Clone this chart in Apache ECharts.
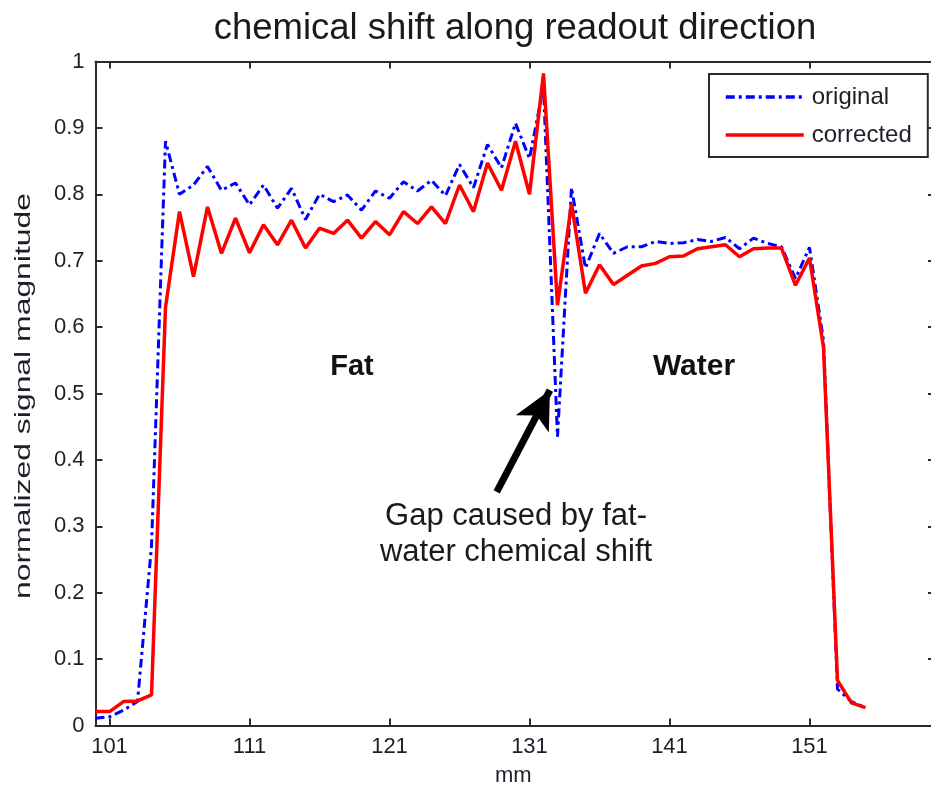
<!DOCTYPE html>
<html>
<head>
<meta charset="utf-8">
<title>chemical shift along readout direction</title>
<script src="https://cdn.jsdelivr.net/npm/echarts@6/dist/echarts.min.js"></script>
<style>
  html, body { margin: 0; padding: 0; background: #fff; }
  #chart { width: 931px; height: 794px; }
</style>
</head>
<body>
<div id="chart"></div>
<script>
// ── Data (position along readout, mm) ─────────────────────────────────────
const mm = [100, 101, 102, 103, 104, 105, 106, 107, 108, 109,
            110, 111, 112, 113, 114, 115, 116, 117, 118, 119,
            120, 121, 122, 123, 124, 125, 126, 127, 128, 129,
            130, 131, 132, 133, 134, 135, 136, 137, 138, 139,
            140, 141, 142, 143, 144, 145, 146, 147, 148, 149,
            150, 151, 152, 153, 154, 155];

// blue dash-dot curve
const original = [0.011, 0.013, 0.023, 0.036, 0.27, 0.88, 0.80, 0.814, 0.842, 0.806,
                  0.817, 0.784, 0.814, 0.779, 0.809, 0.762, 0.800, 0.789, 0.799, 0.776,
                  0.805, 0.794, 0.819, 0.805, 0.821, 0.798, 0.845, 0.810, 0.875, 0.840,
                  0.907, 0.854, 0.962, 0.435, 0.810, 0.689, 0.741, 0.711, 0.721, 0.721,
                  0.729, 0.726, 0.727, 0.732, 0.729, 0.735, 0.718, 0.734, 0.726, 0.721,
                  0.673, 0.720, 0.580, 0.055, 0.036, 0.027];

// red solid curve
const corrected = [0.021, 0.021, 0.036, 0.037, 0.046, 0.63, 0.774, 0.676, 0.781, 0.711,
                   0.764, 0.712, 0.754, 0.724, 0.761, 0.719, 0.749, 0.741, 0.761, 0.734,
                   0.759, 0.739, 0.774, 0.756, 0.781, 0.756, 0.814, 0.774, 0.847, 0.806,
                   0.880, 0.800, 0.982, 0.633, 0.786, 0.651, 0.694, 0.664, 0.678, 0.692,
                   0.696, 0.706, 0.707, 0.718, 0.721, 0.724, 0.706, 0.718, 0.719, 0.719,
                   0.663, 0.704, 0.570, 0.068, 0.034, 0.027];

const xTicks = [101, 111, 121, 131, 141, 151];

// arrow pointing at the gap, in data coordinates [mm, magnitude]
const arrowFrom = [128.66, 0.352];
const arrowTo = [132.46, 0.505];

// ── Chart ─────────────────────────────────────────────────────────────────
const FONT = '"Liberation Sans", Arial, sans-serif';
const AXIS_COLOR = '#2b2b2b';
const TEXT_COLOR = '#1e1e28';

const chart = echarts.init(document.getElementById('chart'), null, { renderer: 'canvas' });

const pairs = (vals) => mm.map((x, i) => [x, vals[i]]);

const frameAxis = {
  axisLine: { show: true, onZero: false, lineStyle: { color: AXIS_COLOR, width: 2 } },
  axisTick: { show: true, inside: true, length: 7, lineStyle: { color: AXIS_COLOR, width: 2 } },
  splitLine: { show: false },
};

chart.setOption({
  animation: false,
  backgroundColor: '#ffffff',
  textStyle: { fontFamily: FONT },
  // plot box runs past the right edge of the picture, as in the reference
  grid: { left: 95.5, top: 61.5, right: 0, bottom: 68.5, containLabel: false },
  legend: {
    orient: 'vertical',
    left: 709,
    top: 74,
    padding: [11, 16, 10, 15],
    itemWidth: 78,
    itemHeight: 14,
    itemGap: 14,
    borderColor: '#2b2b2b',
    borderWidth: 2,
    backgroundColor: '#fff',
    itemStyle: { opacity: 0 },
    lineStyle: { width: 3.5 },
    textStyle: { fontFamily: FONT, fontSize: 24, color: TEXT_COLOR, padding: [0, 0, 0, 3] },
    data: ['original', 'corrected'],
  },
  xAxis: [
    {
      type: 'value', min: 100, max: 159.68, position: 'bottom',
      name: 'mm', nameLocation: 'middle', nameGap: 39,
      nameTextStyle: { fontFamily: FONT, fontSize: 22, color: TEXT_COLOR },
      ...frameAxis,
      axisTick: { ...frameAxis.axisTick, customValues: xTicks },
      axisLabel: { show: true, customValues: xTicks, margin: 10, fontSize: 22, color: TEXT_COLOR, fontFamily: FONT },
    },
    {
      type: 'value', min: 100, max: 159.68, position: 'top',
      ...frameAxis,
      axisTick: { ...frameAxis.axisTick, customValues: xTicks },
      axisLabel: { show: false },
    },
  ],
  yAxis: [
    {
      type: 'value', min: 0, max: 1, interval: 0.1, position: 'left',
      ...frameAxis,
      axisLabel: {
        margin: 11, fontSize: 22, color: TEXT_COLOR, fontFamily: FONT,
        formatter: (v) => String(Math.round(v * 10) / 10),
      },
    },
    {
      type: 'value', min: 0, max: 1, interval: 0.1, position: 'right',
      axisLine: { show: false },
      axisTick: { show: true, inside: true, length: 3, lineStyle: { color: AXIS_COLOR, width: 2 } },
      splitLine: { show: false },
      axisLabel: { show: false },
    },
  ],
  series: [
    {
      name: 'original',
      type: 'line',
      data: pairs(original),
      symbol: 'none',
      z: 2,
      lineStyle: { color: '#0000ff', width: 3, type: [9, 4, 3, 4] },
      itemStyle: { color: '#0000ff' },
    },
    {
      name: 'corrected',
      type: 'line',
      data: pairs(corrected),
      symbol: 'none',
      z: 3,
      lineStyle: { color: '#ff0000', width: 3.5, type: 'solid' },
      itemStyle: { color: '#ff0000' },
      markLine: {
        silent: true,
        animation: false,
        symbol: ['none', 'arrow'],
        symbolSize: [28, 38],
        label: { show: false },
        lineStyle: { color: '#000', width: 7, type: 'solid' },
        data: [[{ coord: arrowFrom }, { coord: arrowTo }]],
      },
    },
  ],
  graphic: [
    {
      type: 'text', x: 515, y: 29,
      style: {
        text: 'chemical shift along readout direction',
        font: '36.5px ' + FONT, fill: '#1a1a1a', align: 'center', verticalAlign: 'middle',
      },
    },
    {
      // y-axis title, stretched along its length like the reference
      type: 'text', x: 24, y: 396, rotation: Math.PI / 2, scaleX: 1.45,
      style: {
        text: 'normalized signal magnitude',
        font: '22px ' + FONT, fill: TEXT_COLOR, align: 'center', verticalAlign: 'middle',
      },
    },
    {
      type: 'text', x: 352, y: 367,
      style: { text: 'Fat', font: 'bold 29px ' + FONT, fill: '#111', align: 'center', verticalAlign: 'middle' },
    },
    {
      type: 'text', x: 694, y: 367,
      style: { text: 'Water', font: 'bold 30px ' + FONT, fill: '#111', align: 'center', verticalAlign: 'middle' },
    },
    {
      type: 'text', x: 516, y: 516,
      style: { text: 'Gap caused by fat-', font: '31px ' + FONT, fill: '#1a1a1a', align: 'center', verticalAlign: 'middle' },
    },
    {
      type: 'text', x: 516, y: 552,
      style: { text: 'water chemical shift', font: '31px ' + FONT, fill: '#1a1a1a', align: 'center', verticalAlign: 'middle' },
    },
  ],
});
</script>
</body>
</html>
